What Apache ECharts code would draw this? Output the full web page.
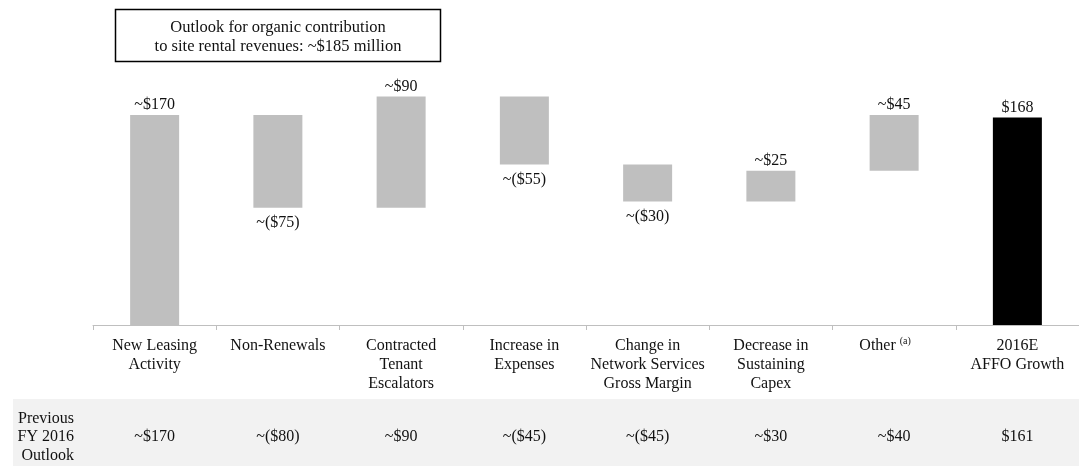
<!DOCTYPE html>
<html>
<head>
<meta charset="utf-8">
<title>2016E AFFO Growth Bridge</title>
<script src="https://cdn.jsdelivr.net/npm/echarts@6/dist/echarts.min.js"></script>
<style>
  html, body { margin: 0; padding: 0; background: #ffffff; }
  #chart { width: 1079px; height: 466px; }
</style>
</head>
<body>
<div id="chart"></div>
<script>
// Bridge steps (in $ millions)
const categories = [
  'New Leasing\nActivity',
  'Non-Renewals',
  'Contracted\nTenant\nEscalators',
  'Increase in\nExpenses',
  'Change in\nNetwork Services\nGross Margin',
  'Decrease in\nSustaining\nCapex',
  'Other',
  '2016E\nAFFO Growth'
];
const changes = [170, -75, 90, -55, -30, 25, 45];
const totalGrowth = 168;
const prevOutlook = ['~$170', '~($80)', '~$90', '~($45)', '~($45)', '~$30', '~$40', '$161'];
const boxLines = ['Outlook for organic contribution', 'to site rental revenues: ~$185 million'];

// Floating bars: invisible base + visible segment
const baseVals = [];
const stepVals = [];
let running = 0;
changes.forEach(function (c) {
  if (c >= 0) {
    baseVals.push(running);
    stepVals.push(c);
    running += c;
  } else {
    running += c;
    baseVals.push(running);
    stepVals.push(-c);
  }
});
baseVals.push(0);
stepVals.push(totalGrowth);

const FONT = '"Liberation Serif", "Times New Roman", serif';
const TXT = '#111111';
const FS = 16;

const stepData = stepVals.map(function (v, i) {
  const isTotal = i === changes.length;
  const neg = !isTotal && changes[i] < 0;
  return {
    value: v,
    itemStyle: { color: isTotal ? '#000000' : '#bfbfbf' },
    label: neg ? { position: 'bottom', distance: 7 } : { position: 'top', distance: 2 }
  };
});

function stepLabel(i) {
  if (i === changes.length) return '$' + totalGrowth;
  const c = changes[i];
  return c < 0 ? '~($' + (-c) + ')' : '~$' + c;
}

const chart = echarts.init(document.getElementById('chart'), null, { renderer: 'canvas' });

chart.setOption({
  animation: false,
  backgroundColor: '#ffffff',
  textStyle: { fontFamily: FONT },
  grid: { left: 93, width: 989, top: 78, height: 247, containLabel: false },
  xAxis: [
    {
      type: 'category',
      data: categories,
      axisLine: { lineStyle: { color: '#bfbfbf', width: 1 } },
      axisTick: { show: true, length: 5, lineStyle: { color: '#bfbfbf' } },
      axisLabel: {
        interval: 0,
        margin: 11,
        color: TXT,
        fontFamily: FONT,
        fontSize: FS,
        lineHeight: 19,
        formatter: function (v) {
          return v === 'Other' ? 'Other {sup|(a)}{gap|}' : v;
        },
        rich: {
          sup: { fontSize: 10, fontFamily: FONT, color: TXT, padding: [0, 0, 9, 0] },
          gap: { width: 18 }
        }
      }
    },
    {
      type: 'category',
      data: categories,
      position: 'bottom',
      offset: 100,
      axisLine: { show: false },
      axisTick: { show: false },
      axisLabel: {
        interval: 0,
        margin: 2,
        color: TXT,
        fontFamily: FONT,
        fontSize: FS,
        lineHeight: 19,
        formatter: function (v, i) { return prevOutlook[i]; }
      }
    }
  ],
  yAxis: {
    type: 'value',
    min: 0,
    max: 200,
    show: false,
    splitLine: { show: false }
  },
  series: [
    {
      name: 'base',
      type: 'bar',
      stack: 'bridge',
      barWidth: 49,
      data: baseVals,
      itemStyle: { color: 'transparent' },
      silent: true
    },
    {
      name: 'step',
      type: 'bar',
      stack: 'bridge',
      barWidth: 49,
      data: stepData,
      label: {
        show: true,
        color: TXT,
        fontFamily: FONT,
        fontSize: FS,
        formatter: function (p) { return stepLabel(p.dataIndex); }
      }
    }
  ],
  graphic: [
    {
      type: 'rect',
      z: -10,
      silent: true,
      shape: { x: 13, y: 399, width: 1070, height: 70 },
      style: { fill: '#f2f2f2' }
    },
    {
      type: 'text',
      silent: true,
      style: {
        x: 74,
        y: 437,
        text: 'Previous\nFY 2016\nOutlook',
        align: 'right',
        verticalAlign: 'middle',
        font: FS + 'px ' + FONT,
        lineHeight: 18.7,
        fill: TXT
      }
    },
    {
      type: 'rect',
      silent: true,
      shape: { x: 115.5, y: 9.5, width: 325, height: 52 },
      style: { fill: '#ffffff', stroke: '#000000', lineWidth: 1.5 }
    },
    {
      type: 'text',
      silent: true,
      style: {
        x: 278,
        y: 37,
        text: boxLines.join('\n'),
        align: 'center',
        verticalAlign: 'middle',
        font: '16.5px ' + FONT,
        lineHeight: 19,
        fill: TXT
      }
    }
  ]
});
</script>
</body>
</html>
